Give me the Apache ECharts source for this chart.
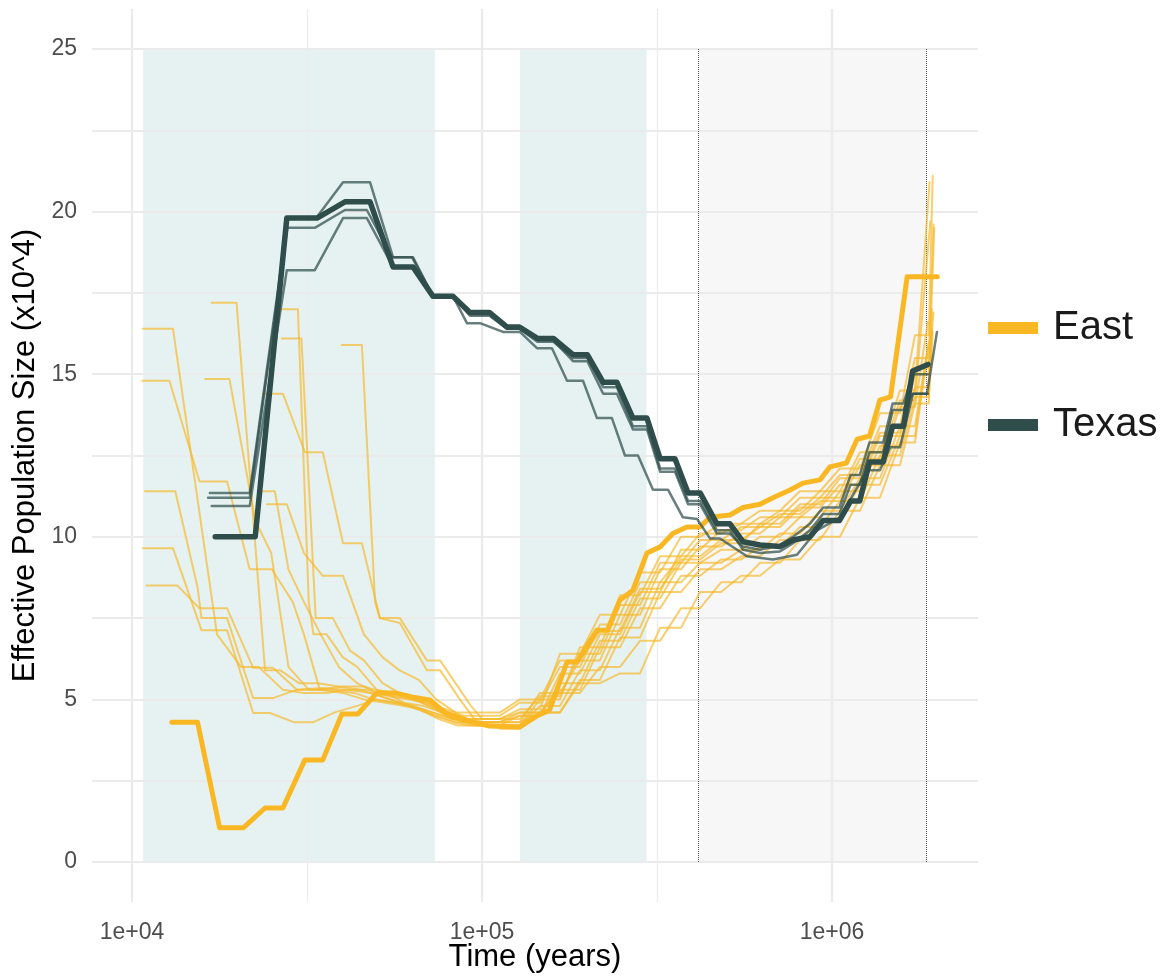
<!DOCTYPE html>
<html>
<head>
<meta charset="utf-8">
<script src="https://cdn.jsdelivr.net/npm/echarts@6/dist/echarts.min.js"></script>
<style>
  html, body { margin: 0; padding: 0; background: #fff; }
  #chart { width: 1167px; height: 976px; }
</style>
</head>
<body>
<div id="chart"></div>
<script>
// axis ranges (time in years, Ne in x10^4)
var xRange = [7690, 2613000];
var yRange = [-1.23, 26.23];
var xMajor = [1e4, 1e5, 1e6];
var xMinor = [31623, 316228];
var yMajor = [0, 5, 10, 15, 20, 25];
var yMinor = [2.5, 7.5, 12.5, 17.5, 22.5];

// shaded periods
var tealBands = [[10770, 73400], [128400, 295500]];
var greyBand = [415000, 1857000];
var bandTop = 25;

// Texas, thick line
var texasMain = [[17300,10.0],[22500,10.0],[27700,19.8],[33800,19.8],[40600,20.3],[47900,20.3],[55700,18.3],[63500,18.3],[72400,17.4],[82600,17.4],[92400,16.9],[105000,16.9],[118000,16.45],[128000,16.45],[144000,16.1],[160000,16.1],[182000,15.6],[200000,15.6],[222000,14.75],[243000,14.75],[270000,13.65],[296000,13.65],[323000,12.4],[356000,12.4],[388000,11.35],[420000,11.35],[469000,10.4],[511000,10.4],[557000,9.85],[623000,9.75],[710000,9.7],[774000,9.9],[865000,10.0],[943000,10.5],[1050000,10.5],[1130000,11.1],[1200000,11.1],[1280000,12.3],[1400000,12.3],[1490000,13.4],[1600000,13.4],[1700000,15.1],[1880000,15.3]];

// Texas, thin lines
var texasThin = [
  [[16700,11.35],[21700,11.35],[27900,19.8],[33600,19.8],[40100,20.9],[47900,20.9],[55700,18.6],[63500,18.6],[72400,17.4],[82600,17.4],[92400,16.8],[105000,16.8],[118000,16.4],[128000,16.4],[144000,16.0],[160000,16.0],[182000,15.5],[200000,15.5],[222000,14.6],[243000,14.6],[270000,13.4],[296000,13.4],[323000,12.1],[356000,12.1],[388000,11.1],[420000,11.1],[469000,10.2],[511000,10.2],[557000,9.6],[623000,9.5],[710000,9.55],[774000,9.8],[865000,10.2],[943000,10.7],[1050000,10.7],[1130000,11.6],[1200000,11.6],[1280000,12.6],[1400000,12.6],[1490000,13.9],[1600000,13.9],[1700000,14.4],[1880000,14.4]],
  [[16500,11.2],[21700,11.2],[27800,19.5],[33300,19.5],[40600,20.05],[46900,20.05],[55300,18.6],[63100,18.6],[72400,17.4],[82600,17.4],[92400,16.85],[105000,16.85],[118000,16.4],[128000,16.4],[144000,16.05],[160000,16.05],[182000,15.4],[200000,15.4],[222000,14.4],[243000,14.4],[270000,13.3],[296000,13.3],[323000,12.0],[356000,12.0],[388000,11.0],[420000,11.0],[469000,10.1],[511000,10.1],[557000,9.7],[623000,9.6],[710000,9.75],[774000,10.0],[865000,10.4],[943000,10.9],[1050000,10.9],[1130000,11.9],[1200000,11.9],[1280000,12.9],[1400000,12.9],[1490000,14.1],[1600000,14.1],[1700000,15.0],[1880000,15.0]],
  [[16900,10.95],[21700,10.95],[27700,18.2],[33300,18.2],[40100,19.8],[46900,19.8],[55700,18.3],[63500,18.3],[72400,17.4],[82600,17.4],[90600,16.57],[98700,16.57],[114800,16.3],[128400,16.3],[143600,15.8],[158500,15.8],[175000,14.8],[194400,14.8],[213100,13.65],[235100,13.65],[256200,12.5],[279100,12.5],[308000,11.45],[340000,11.45],[375100,10.6],[411400,10.55],[448100,9.95],[478600,9.95],[571600,9.4],[678000,9.3],[794300,9.45],[906000,10.2],[1054000,10.6],[1259000,12.05],[1371000,12.05],[1465000,12.75],[1564000,12.75],[1704000,14.4],[1868000,14.4],[1995000,16.3]]
];

// East, thick line
var eastMain = [[13000,4.3],[15400,4.3],[17800,1.05],[20800,1.05],[24000,1.66],[27000,1.66],[31200,3.14],[35100,3.14],[39800,4.55],[44200,4.55],[50100,5.2],[56400,5.2],[63500,5.07],[71000,4.98],[78400,4.6],[89400,4.37],[105000,4.18],[128000,4.15],[144000,4.5],[156000,4.67],[175000,6.15],[187000,6.15],[213000,7.13],[228000,7.13],[248000,8.06],[270000,8.36],[296000,9.5],[323000,9.69],[351000,10.1],[385000,10.3],[420000,10.3],[448000,10.6],[511000,10.67],[557000,10.9],[623000,11.0],[678000,11.2],[759000,11.44],[826000,11.65],[924000,11.75],[987000,12.15],[1100000,12.27],[1180000,13.0],[1280000,13.1],[1370000,14.2],[1470000,14.3],[1640000,18.0],[2000000,18.0]];

// East, thin lines: early part, then paired time intervals sharing one value
var flatsA = [[100000,112600],[128400,146500],[167100,190500],[217300,248000],[282800,322700],[370300,419700],[482000,549500],[622800,710100],[810000,924000],[1054000,1202000],[1371000,1564000],[1726000,1890000]];
var flatsB = [[112600,128400],[146500,167100],[190500,217300],[248000,282800],[322700,370300],[419700,482000],[549500,622800],[710100,810000],[924000,1054000],[1202000,1371000],[1564000,1726000]];

var eastEarly = [
  [[10750,16.4],[13100,16.4],[17500,7.0],[20500,6.0],[23000,6.0],[27000,5.3],[31000,5.2],[36000,5.2],[41000,5.3],[47000,5.3],[54000,5.1],[62000,5.0],[70000,4.9],[79000,4.5],[89000,4.3]],
  [[10700,14.8],[12800,14.8],[15600,11.7],[18700,11.7],[21700,9.0],[25100,9.0],[28800,8.0],[31000,7.0],[34400,5.3],[40000,5.2],[46000,5.0],[53000,4.9],[60000,4.8],[68000,4.7],[77000,4.5],[88000,4.3],[97000,4.2]],
  [[10900,11.4],[13300,11.4],[15400,8.45],[15800,7.5],[18700,7.5],[22200,5.04],[25300,5.04],[29600,5.3],[35000,5.35],[41000,5.3],[48000,5.2],[55000,5.0],[63000,4.8],[72000,4.6],[82000,4.4],[92000,4.4]],
  [[10750,9.65],[13100,9.65],[15800,7.13],[18700,7.13],[22200,4.58],[24800,4.58],[29000,4.3],[33000,4.3],[38000,4.6],[44000,4.8],[50000,5.0],[57000,4.9],[65000,4.7],[74000,4.5],[84000,4.3],[95000,4.3]],
  [[11000,8.5],[13500,8.5],[15600,7.8],[18700,7.8],[22200,5.97],[25300,5.97],[29600,5.3],[34000,5.3],[40000,5.4],[46000,5.4],[53000,5.2],[60000,4.9],[68000,4.8],[77000,4.6],[88000,4.5]],
  [[16900,17.2],[19900,17.2],[24000,5.9],[26500,5.9],[30000,5.5],[34000,5.5],[39000,5.4],[45000,5.3],[51000,5.1],[58000,4.9],[66000,4.7],[75000,4.4],[85000,4.2],[95000,4.2]],
  [[16200,14.85],[19000,14.85],[22500,10.5],[25000,9.5],[28000,6.0],[32000,5.3],[37000,5.3],[43000,5.2],[49000,5.0],[56000,4.9],[64000,4.8],[73000,4.5],[83000,4.3],[92000,4.2]],
  [[26800,17.0],[29800,17.0],[32000,8.0],[33000,7.0],[36000,7.0],[40000,6.3],[44000,6.0],[50000,5.3],[56000,5.2],[63000,5.0],[71000,4.8],[79000,4.6],[89000,4.4],[97000,4.4]],
  [[26800,16.1],[30500,16.1],[33500,7.5],[37500,7.5],[42000,6.5],[46000,6.2],[52000,5.5],[58000,5.2],[65000,5.0],[73000,4.7],[82000,4.4],[91000,4.3]],
  [[23700,14.4],[27000,14.4],[31200,12.6],[35100,12.6],[40100,9.8],[45400,9.8],[51100,7.5],[58300,7.35],[69600,5.9],[75900,5.9],[86500,5.0],[95000,4.4]],
  [[23700,11.4],[25600,11.4],[28000,9.0],[31000,8.0],[35000,6.9],[39000,6.0],[44000,5.5],[50000,5.2],[57000,5.1],[65000,5.0],[74000,4.8],[84000,4.6],[92000,4.6]],
  [[24300,11.0],[27700,11.0],[31000,9.5],[35100,8.8],[40100,8.8],[46000,7.0],[52000,6.3],[58000,5.9],[66000,5.6],[74000,5.0],[84000,4.6],[95000,4.3]],
  [[39800,15.9],[45400,15.9],[49500,8.0],[51100,7.5],[58300,7.5],[69600,6.2],[75900,6.2],[86500,5.3],[93000,4.8]]
];
var eastPhase = ['A','B','A','B','A','B','A','B','A','B','A','B','A'];
var eastLevels = [
  [4.3,4.5,5.8,7.0,8.3,9.6,10.2,10.6,11.2,11.9,13.4,15.5],
  [4.2,5.0,6.6,8.2,9.4,10.1,10.4,10.8,11.4,12.6,14.5],
  [4.4,4.7,6.4,7.6,8.9,10.0,10.4,10.8,11.4,12.1,13.8,16.2],
  [4.3,5.2,6.2,7.6,9.0,9.7,10.1,10.6,11.1,12.2,14.0],
  [4.5,4.9,6.0,7.3,8.6,9.4,9.9,10.3,10.9,11.6,13.1,15.0],
  [4.2,4.8,5.9,7.2,8.6,9.2,9.6,10.1,10.8,11.8,13.4],
  [4.2,4.5,5.5,6.8,8.1,9.2,9.6,10.0,10.6,11.4,12.8,14.6],
  [4.4,5.1,6.4,7.9,9.2,9.9,10.3,10.7,11.2,12.4,14.2],
  [4.3,4.6,5.3,6.6,7.8,8.8,9.3,9.7,10.3,11.1,12.5,14.3],
  [4.1,4.6,5.6,6.9,8.3,9.0,9.4,9.9,10.5,11.6,13.1],
  [4.6,5.0,6.2,7.1,8.4,9.3,9.8,10.4,11.0,11.8,13.2,15.2],
  [4.3,4.6,5.5,5.8,7.2,8.3,8.8,9.3,10.0,11.2,12.9],
  [4.4,4.6,5.2,6.0,6.8,7.8,8.6,9.2,9.9,10.8,12.2,14.1]
];
var eastEnd = [[1950000,19.6],[1900000,20.9],[1940000,21.1],[1880000,16.6],[1960000,19.5],[1890000,16.0],[1930000,17.0],[1910000,19.7],[1940000,16.3],[1880000,15.8],[1950000,16.9],[1870000,15.6],[1930000,16.4]];

var eastColor = '#F9B823';
var texasColor = '#2E4D4B';
var fontFamily = "'Liberation Sans', Arial, Helvetica, sans-serif";
var lg = Math.log10;

function toXY(points) {
  return points.map(function (p) { return [lg(p[0]), p[1]]; });
}

function eastLine(i) {
  var flats = eastPhase[i] === 'A' ? flatsA : flatsB;
  var pts = eastEarly[i].slice();
  eastLevels[i].forEach(function (v, k) {
    pts.push([flats[k][0], v], [flats[k][1], v]);
  });
  pts.push(eastEnd[i]);
  return pts;
}

function lineSeries(name, points, color, width, z) {
  return {
    name: name,
    type: 'line',
    data: toXY(points),
    showSymbol: false,
    symbol: 'none',
    silent: true,
    z: z,
    lineStyle: { color: color, width: width, cap: 'round', join: 'round' },
    itemStyle: { color: color },
    animation: false
  };
}

// grid lines
var gridLines = [];
xMajor.forEach(function (t) { gridLines.push({ xAxis: lg(t), lineStyle: { width: 2.2 } }); });
xMinor.forEach(function (t) { gridLines.push({ xAxis: lg(t), lineStyle: { width: 1.2 } }); });
yMajor.forEach(function (v) { gridLines.push({ yAxis: v, lineStyle: { width: 2.2 } }); });
yMinor.forEach(function (v) { gridLines.push({ yAxis: v, lineStyle: { width: 2 } }); });

var series = [];
series.push({
  type: 'line', data: [], z: 1, silent: true, animation: false,
  markLine: {
    silent: true, symbol: 'none', animation: false,
    label: { show: false },
    lineStyle: { color: '#EBEBEB', type: 'solid' },
    data: gridLines
  }
});
series.push({
  type: 'line', data: [], z: 2, silent: true, animation: false,
  markArea: {
    silent: true, animation: false,
    data: tealBands.map(function (b) {
      return [{ xAxis: lg(b[0]), yAxis: 0, itemStyle: { color: 'rgba(176,216,216,0.32)' } },
              { xAxis: lg(b[1]), yAxis: bandTop }];
    }).concat([[
      { xAxis: lg(greyBand[0]), yAxis: 0, itemStyle: { color: 'rgba(215,215,222,0.2)' } },
      { xAxis: lg(greyBand[1]), yAxis: bandTop }
    ]])
  }
});
series.push({
  type: 'line', data: [], z: 3, silent: true, animation: false,
  markLine: {
    silent: true, symbol: 'none', animation: false,
    label: { show: false },
    lineStyle: { color: '#555', type: 'dotted', width: 1 },
    data: greyBand.map(function (t) {
      return [{ coord: [lg(t), 0] }, { coord: [lg(t), bandTop] }];
    })
  }
});

for (var i = 0; i < eastEarly.length; i++) {
  series.push(lineSeries('East', eastLine(i), 'rgba(246,184,41,0.68)', 2, 10));
}
series.push(lineSeries('East', eastMain, eastColor, 5, 11));
texasThin.forEach(function (pts) {
  series.push(lineSeries('Texas', pts, 'rgba(46,77,75,0.72)', 2.5, 12));
});
series.push(lineSeries('Texas', texasMain, texasColor, 5.5, 13));

var chart = echarts.init(document.getElementById('chart'));
chart.setOption({
  backgroundColor: '#fff',
  animation: false,
  textStyle: { fontFamily: fontFamily },
  grid: { left: 92, right: 189, top: 9, bottom: 74, containLabel: false, outerBoundsMode: 'none' },
  legend: {
    orient: 'vertical',
    left: 988,
    top: 304,
    padding: 0,
    itemWidth: 50,
    itemHeight: 12,
    itemGap: 49,
    icon: 'rect',
    selectedMode: false,
    textStyle: { fontSize: 40, lineHeight: 48, color: '#1a1a1a', fontFamily: fontFamily, padding: [0, 0, 0, 10] },
    data: [
      { name: 'East', itemStyle: { color: eastColor, borderWidth: 0 } },
      { name: 'Texas', itemStyle: { color: texasColor, borderWidth: 0 } }
    ]
  },
  xAxis: {
    type: 'value',
    min: lg(xRange[0]),
    max: lg(xRange[1]),
    name: 'Time (years)',
    nameLocation: 'middle',
    nameGap: 40,
    nameMoveOverlap: false,
    nameTextStyle: { fontSize: 31, color: '#000', fontFamily: fontFamily },
    axisLine: { show: false },
    axisTick: { show: false },
    splitLine: { show: false },
    axisLabel: {
      customValues: xMajor.map(lg),
      formatter: function (v) { return '1e+0' + Math.round(v); },
      fontSize: 23, color: '#4D4D4D', margin: 19, fontFamily: fontFamily
    }
  },
  yAxis: {
    type: 'value',
    min: yRange[0],
    max: yRange[1],
    name: 'Effective Population Size (x10^4)',
    nameLocation: 'middle',
    nameGap: 47,
    nameTextStyle: { fontSize: 31, color: '#000', fontFamily: fontFamily },
    axisLine: { show: false },
    axisTick: { show: false },
    splitLine: { show: false },
    axisLabel: {
      customValues: yMajor,
      fontSize: 23, color: '#4D4D4D', margin: 15, fontFamily: fontFamily
    }
  },
  series: series
});
</script>
</body>
</html>
